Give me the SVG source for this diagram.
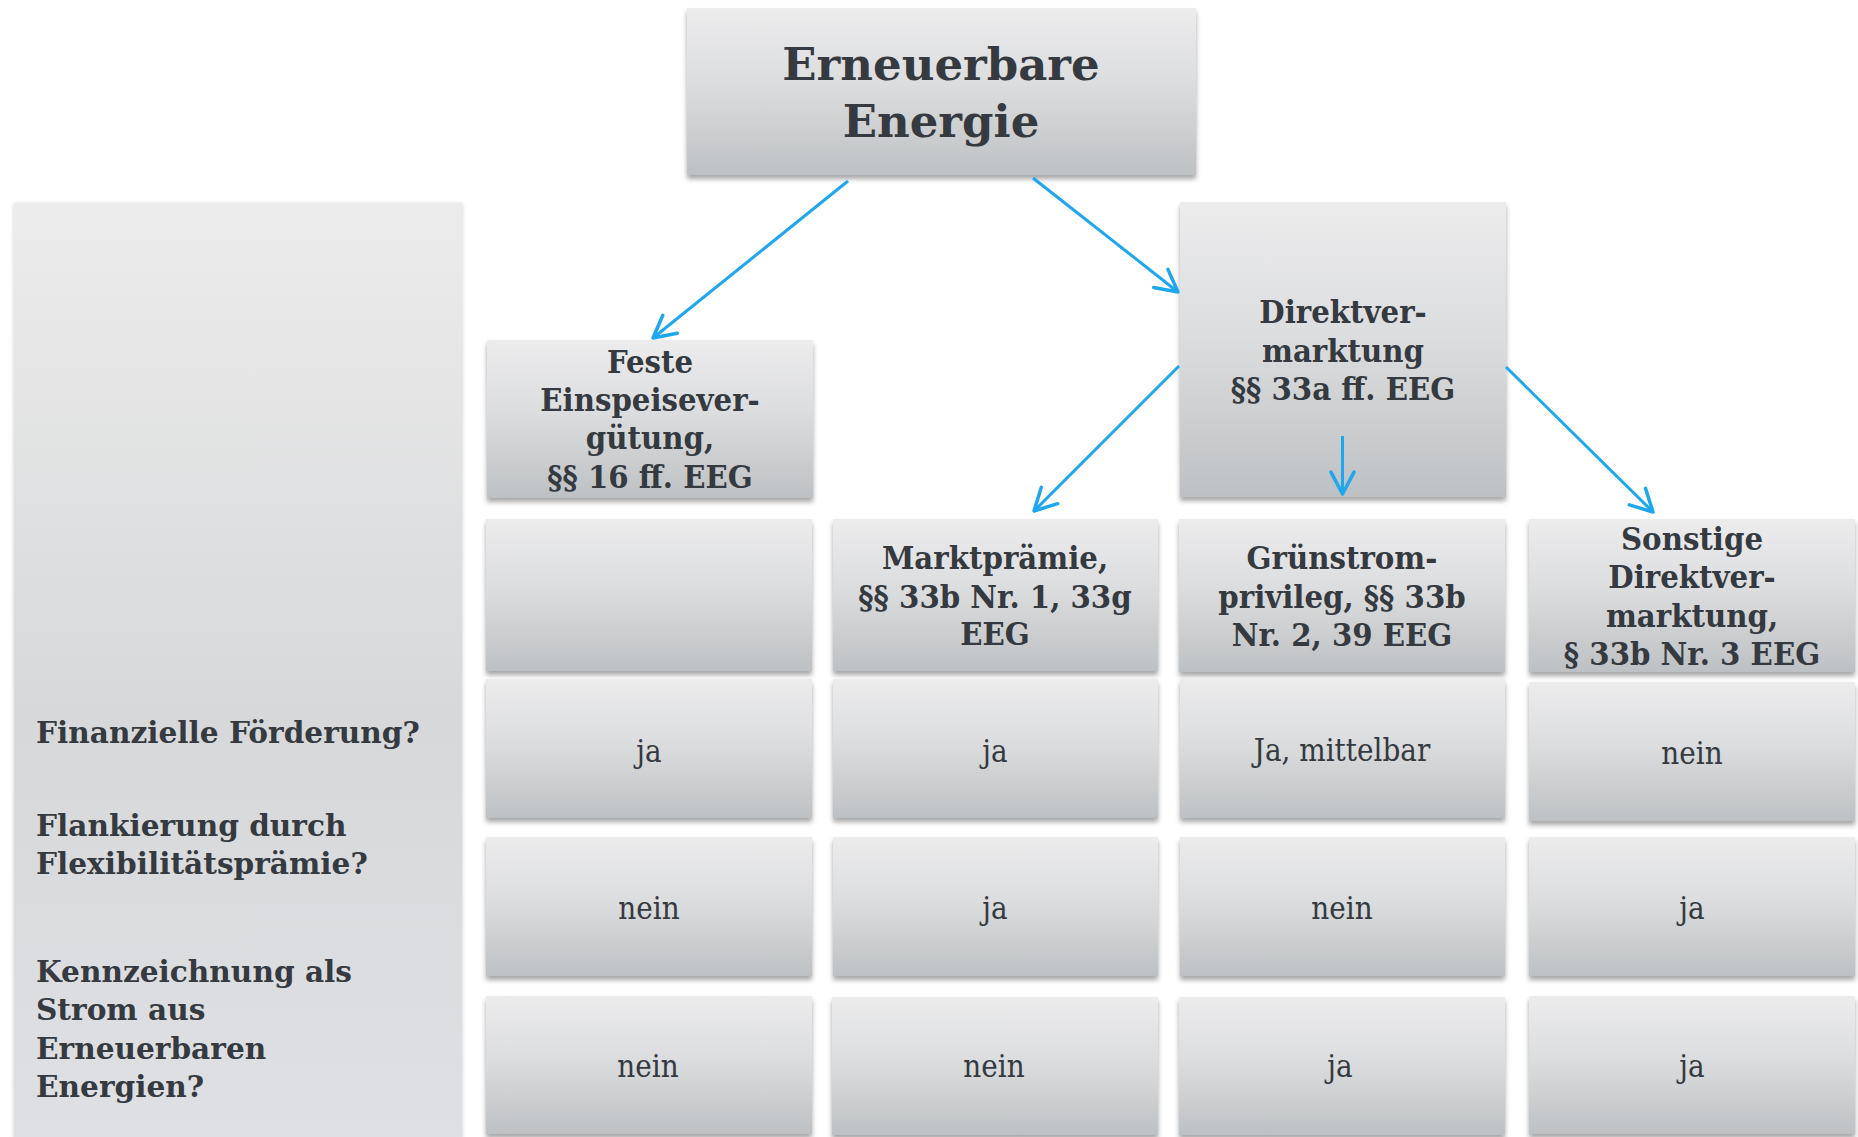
<svg xmlns="http://www.w3.org/2000/svg" width="1858" height="1137" viewBox="0 0 1858 1137">
<style>
.box{fill:url(#g);filter:url(#sh)}
.panel{fill:url(#gp);filter:url(#sh2)}
.t{font-family:"DejaVu Serif Condensed","DejaVu Serif",serif;font-stretch:condensed;fill:#343a3f;text-anchor:middle}
.b{font-weight:bold;font-size:32.5px}
.c{font-size:31px}
.h{font-family:"DejaVu Serif",serif;font-weight:bold;font-size:45px;fill:#343a3f;text-anchor:middle}
.l{font-family:"DejaVu Serif",serif;font-weight:bold;font-size:29.6px;fill:#343a3f}
.a{stroke:#1ea7ee;stroke-width:3;fill:none;marker-end:url(#ah)}
</style>
<defs>
<linearGradient id="g" x1="0" y1="0" x2="0" y2="1">
<stop offset="0" stop-color="#ececed"/>
<stop offset="0.45" stop-color="#dcdddf"/>
<stop offset="1" stop-color="#bec1c3"/>
</linearGradient>
<linearGradient id="gp" x1="0" y1="0" x2="0" y2="1">
<stop offset="0" stop-color="#ececec"/>
<stop offset="0.55" stop-color="#d7d8da"/>
<stop offset="1" stop-color="#dfe0e3"/>
</linearGradient>
<filter id="sh" x="-5%" y="-5%" width="110%" height="115%">
<feDropShadow dx="0" dy="4" stdDeviation="2.5" flood-color="#000" flood-opacity="0.35"/>
</filter>
<filter id="sh2" x="-5%" y="-5%" width="110%" height="110%">
<feDropShadow dx="0" dy="1" stdDeviation="2" flood-color="#000" flood-opacity="0.2"/>
</filter>
<marker id="ah" markerUnits="userSpaceOnUse" markerWidth="30" markerHeight="30" viewBox="-22 -12 26 24" refX="0" refY="0" orient="auto">
<path d="M-19,-10 L0,0 L-19,10" fill="none" stroke="#1ea7ee" stroke-width="3" stroke-linecap="round" stroke-linejoin="round"/>
</marker>
</defs>
<rect width="1858" height="1137" fill="#fff"/>

<g id="panel">
<rect class="panel" x="14" y="203" width="448" height="940"/>
<text class="l" x="36" y="743">Finanzielle Förderung?</text>
<text class="l" x="36" y="836">Flankierung durch</text>
<text class="l" x="36" y="874">Flexibilitätsprämie?</text>
<text class="l" x="36" y="982">Kennzeichnung als</text>
<text class="l" x="36" y="1020">Strom aus</text>
<text class="l" x="36" y="1059">Erneuerbaren</text>
<text class="l" x="36" y="1097">Energien?</text>
</g>

<g id="root">
<rect class="box" x="687" y="8" width="509" height="167"/>
<text class="h" x="941" y="80">Erneuerbare</text>
<text class="h" x="941" y="137">Energie</text>
</g>

<g id="feste">
<rect class="box" x="487" y="340" width="326" height="158"/>
<text class="t b" x="650" y="373">Feste</text>
<text class="t b" x="650" y="411">Einspeisever-</text>
<text class="t b" x="650" y="449">gütung,</text>
<text class="t b" x="650" y="488">§§ 16 ff. EEG</text>
</g>

<g id="direkt">
<rect class="box" x="1180" y="202" width="326" height="295"/>
<text class="t b" x="1343" y="323">Direktver-</text>
<text class="t b" x="1343" y="362">marktung</text>
<text class="t b" x="1343" y="400">§§ 33a ff. EEG</text>
</g>

<g id="h-empty"><rect class="box" x="486" y="519" width="326" height="152"/></g>
<g id="markt">
<rect class="box" x="833" y="519" width="325" height="152"/>
<text class="t b" x="995" y="569">Marktprämie,</text>
<text class="t b" x="995" y="608">§§ 33b Nr. 1, 33g</text>
<text class="t b" x="995" y="645">EEG</text>
</g>
<g id="gruen">
<rect class="box" x="1179" y="519" width="326" height="153"/>
<text class="t b" x="1342" y="569">Grünstrom-</text>
<text class="t b" x="1342" y="608">privileg, §§ 33b</text>
<text class="t b" x="1342" y="646">Nr. 2, 39 EEG</text>
</g>
<g id="sonst">
<rect class="box" x="1529" y="519" width="326" height="153"/>
<text class="t b" x="1692" y="550">Sonstige</text>
<text class="t b" x="1692" y="588">Direktver-</text>
<text class="t b" x="1692" y="627">marktung,</text>
<text class="t b" x="1692" y="665">§ 33b Nr. 3 EEG</text>
</g>

<g id="r1c1"><rect class="box" x="486" y="679" width="326" height="139"/><text class="t c" x="649" y="762">ja</text></g>
<g id="r1c2"><rect class="box" x="833" y="679" width="325" height="139"/><text class="t c" x="995" y="762">ja</text></g>
<g id="r1c3"><rect class="box" x="1180" y="679" width="325" height="139"/><text class="t c" x="1342" y="761">Ja, mittelbar</text></g>
<g id="r1c4"><rect class="box" x="1529" y="682" width="326" height="139"/><text class="t c" x="1692" y="764">nein</text></g>

<g id="r2c1"><rect class="box" x="486" y="837" width="326" height="139"/><text class="t c" x="649" y="919">nein</text></g>
<g id="r2c2"><rect class="box" x="833" y="837" width="325" height="139"/><text class="t c" x="995" y="919">ja</text></g>
<g id="r2c3"><rect class="box" x="1180" y="837" width="325" height="139"/><text class="t c" x="1342" y="919">nein</text></g>
<g id="r2c4"><rect class="box" x="1529" y="837" width="326" height="139"/><text class="t c" x="1692" y="919">ja</text></g>

<g id="r3c1"><rect class="box" x="486" y="996" width="326" height="138"/><text class="t c" x="648" y="1077">nein</text></g>
<g id="r3c2"><rect class="box" x="832" y="997" width="326" height="138"/><text class="t c" x="994" y="1077">nein</text></g>
<g id="r3c3"><rect class="box" x="1179" y="997" width="326" height="138"/><text class="t c" x="1340" y="1077">ja</text></g>
<g id="r3c4"><rect class="box" x="1529" y="996" width="326" height="138"/><text class="t c" x="1692" y="1077">ja</text></g>

<g id="connectors">
<line class="a" x1="848" y1="181" x2="653" y2="338"/>
<line class="a" x1="1033" y1="178" x2="1178" y2="292"/>
<line class="a" x1="1179" y1="366" x2="1034" y2="511"/>
<line class="a" x1="1342.5" y1="436" x2="1342.5" y2="494"/>
<line class="a" x1="1506" y1="367" x2="1653" y2="512"/>
</g>
</svg>
